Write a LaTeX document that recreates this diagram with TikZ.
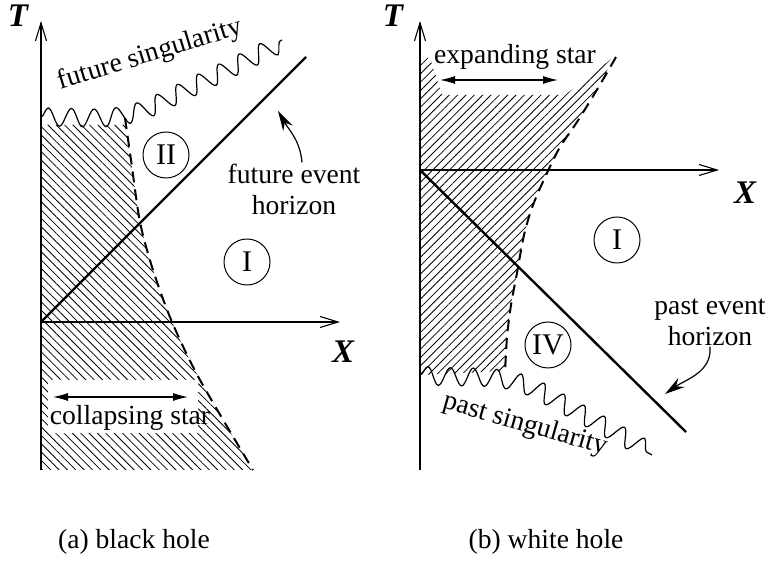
\documentclass[tikz,border=0pt]{standalone}
\usepackage{fontspec}
\setmainfont{Liberation Serif}
\usetikzlibrary{arrows.meta,decorations.pathmorphing,patterns.meta}

\tikzset{
  axisline/.style={line width=1.1pt, -{Straight Barb[length=18pt,width=11pt]}},
  horizon/.style={line width=2.4pt},
  surface/.style={line width=2pt, dash pattern=on 11pt off 7pt},
  sing/.style={line width=1.2pt, decorate,
    decoration={snake, amplitude=9pt, segment length=23pt}},
  regionmark/.style={draw, circle, line width=1pt, minimum size=46pt,
    inner sep=0pt, font=\fontsize{30}{30}\selectfont},
  lbl/.style={inner sep=1pt, font=\fontsize{27.6}{31}\selectfont},
  axlbl/.style={inner sep=0pt, font=\fontsize{33}{33}\selectfont\bfseries\itshape},
  widthbar/.style={line width=1.2pt,
    {Latex[length=15pt,width=8pt]}-{Latex[length=15pt,width=8pt]}},
  pointer/.style={line width=1.2pt, -{Stealth[length=20pt,width=11pt]}},
}

\begin{document}
\begin{tikzpicture}[x=1pt,y=1pt]
  \useasboundingbox (0,0) rectangle (767,561);

  % --- (a) black hole: star interior (hatched) ---
  \fill[pattern={Lines[angle=-45,distance=5.9pt,line width=0.8pt]}]
    (41,436) -- plot[smooth] coordinates {(126,436) (131,401) (140,339)
      (153,291) (172,239) (200,181) (253,91)} -- (41,91) -- cycle;
  \fill[white] (48,128) rectangle (198,181);

  % --- (a) axes ---
  \coordinate (oa) at (41,239);
  \coordinate (ba) at (41,91);
  \coordinate (ta) at (41,540);
  \coordinate (xa) at (340,239);
  \draw[axisline] (ba) -- (ta);
  \draw[axisline] (oa) -- (xa);
  \node[axlbl] (Ta) at (18,545.5) {T};
  \node[axlbl] (Xa) at (343,209) {X};

  % --- (a) horizon, star surface, singularity ---
  \coordinate (ha) at (306,504);
  \draw[horizon] (oa) -- (ha);
  \draw[surface] plot[smooth] coordinates {(125,443) (131,401) (140,339)
      (153,291) (172,239) (200,181) (253,91)};
  \coordinate (sa) at (41,444);
  \draw[sing] (sa) to[out=0,in=205] (150,456) -- (282,521);
  \node[lbl, rotate=17] (fs) at (150,506) {future singularity};

  % --- (a) regions and labels ---
  \node[regionmark] (rII) at (166,406) {II};
  \node[regionmark] (rIa) at (247,299) {I};
  \node[lbl, align=center] (fh) at (294,372) {future event\\horizon};
  \coordinate (fhtip) at (278,450);
  \draw[pointer] ([xshift=8pt]fh.north) to[out=95,in=-60] (fhtip);

  \node[lbl] (cs) at (130,143) {collapsing star};
  \coordinate (csl) at (53,164);
  \coordinate (csr) at (188,164);
  \draw[widthbar] (csl) -- (csr);

  \node[lbl] (capa) at (134,19) {(a) black hole};

  % --- (b) white hole: star interior (hatched) ---
  \fill[pattern={Lines[angle=45,distance=5.9pt,line width=0.8pt]}]
    (420,503) -- (430,503) -- (442,466) -- (565,466) -- (614,504)
    -- plot[smooth] coordinates {(598,473) (577,439) (560,414) (547,388)
      (533,356) (524,326) (517,288) (511,256) (507,224) (505,190)}
    -- (420,186) -- cycle;

  % --- (b) axes ---
  \coordinate (ob) at (420,391);
  \coordinate (bb) at (420,91);
  \coordinate (tb) at (420,540);
  \coordinate (xb) at (719,391);
  \draw[axisline] (bb) -- (tb);
  \draw[axisline] (ob) -- (xb);
  \node[axlbl] (Tb) at (393,545.5) {T};
  \node[axlbl] (Xb) at (745,368) {X};

  % --- (b) horizon, star surface, singularity ---
  \coordinate (hb) at (686,129);
  \draw[horizon] (ob) -- (hb);
  \draw[surface] plot[smooth] coordinates {(616,504) (598,473) (577,439)
      (560,414) (547,388) (533,356) (524,326) (517,288) (511,256)
      (507,224) (505,188)};
  \coordinate (sb) at (420,186);
  \draw[sing] (sb) to[out=-5,in=150] (540,167) -- (652,106);
  \node[lbl, rotate=-16] (ps) at (525,136) {past singularity};

  % --- (b) regions and labels ---
  \node[regionmark] (rIV) at (548,216) {IV};
  \node[regionmark] (rIb) at (617,321) {I};
  \node[lbl, align=center] (ph) at (710,239) {past event\\horizon};
  \coordinate (phtip) at (665,167);
  \draw[pointer] (ph.south) to[out=-85,in=35] (phtip);

  \node[lbl] (es) at (515,504) {expanding star};
  \coordinate (esl) at (440,481);
  \coordinate (esr) at (558,481);
  \draw[widthbar] (esl) -- (esr);

  \node[lbl] (capb) at (546,19) {(b) white hole};

\end{tikzpicture}
\end{document}
